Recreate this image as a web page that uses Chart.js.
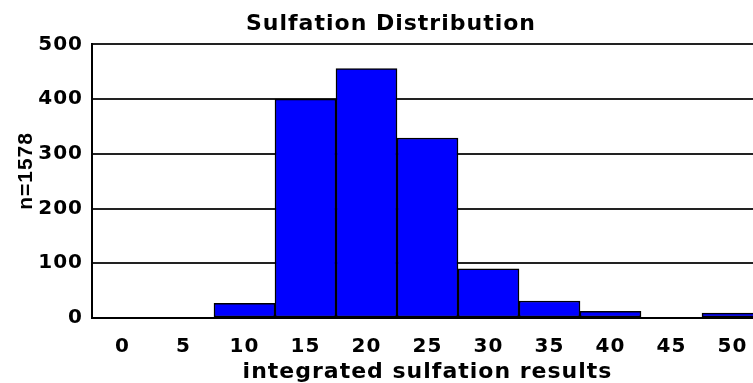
<!DOCTYPE html>
<html>
<head>
<meta charset="utf-8">
<title>Sulfation Distribution</title>
<script src="https://cdn.jsdelivr.net/npm/chart.js@4"></script>
<style>
    html, body { margin: 0; padding: 0; overflow: hidden; background: #fff; }
    #wrap { width: 782px; height: 383px; }
</style>
</head>
<body>
<div id="wrap"><canvas id="sulfationChart" width="782" height="383"></canvas></div>
<script>
// histogram bins (integrated sulfation results) and counts
const binLabels = ['0', '5', '10', '15', '20', '25', '30', '35', '40', '45', '50'];
const binCounts = [0, 0, 27, 400, 456, 329, 90, 31, 12, 0, 9];
const sampleSize = 1578;

const tickFont = { family: 'DejaVu Sans', size: 20, weight: 'bold' };
const titleFont = { family: 'DejaVu Sans', size: 22, weight: 'bold' };

// the original uses a wide bitmap-like font, so spread the letters a little
const letterSpacingPlugin = {
    id: 'letterSpacing',
    beforeUpdate: function(chart) { chart.ctx.letterSpacing = '1px'; },
    beforeDraw: function(chart) { chart.ctx.letterSpacing = '1px'; }
};

document.addEventListener('DOMContentLoaded', function() {
    const ctx = document.getElementById('sulfationChart');

    new Chart(ctx, {
        type: 'bar',
        data: {
            labels: binLabels,
            datasets: [{
                data: binCounts,
                backgroundColor: '#0000ff',
                borderColor: '#000000',
                borderWidth: 1.5,
                borderSkipped: false,
                categoryPercentage: 1,
                barPercentage: 1
            }]
        },
        plugins: [letterSpacingPlugin],
        options: {
            responsive: false,
            animation: false,
            // left padding keeps the main title centred like the original
            layout: { padding: { left: 19, right: 19, top: 0, bottom: -2 } },
            plugins: {
                legend: { display: false },
                tooltip: { enabled: false },
                title: {
                    display: true,
                    text: 'Sulfation Distribution',
                    color: '#000',
                    font: titleFont,
                    padding: { top: 11, bottom: 7 }
                }
            },
            scales: {
                x: {
                    grid: { display: false, drawTicks: false },
                    border: { color: '#000', width: 2 },
                    ticks: { color: '#000', font: tickFont, padding: 17, maxRotation: 0 },
                    title: {
                        display: true,
                        text: 'integrated sulfation results',
                        color: '#000',
                        font: titleFont,
                        padding: { top: 0, bottom: 0 }
                    },
                    afterFit: function(scale) { scale.height = 67; }
                },
                y: {
                    min: 0,
                    max: 500,
                    ticks: { stepSize: 100, color: '#000', font: tickFont, padding: 9 },
                    grid: { color: '#222', lineWidth: 2, drawTicks: false },
                    border: { color: '#000', width: 2 },
                    title: {
                        display: true,
                        // leading spaces nudge the label upward like the original
                        text: '   n=' + sampleSize,
                        color: '#000',
                        font: { family: "'Liberation Sans Narrow', 'Liberation Sans'", size: 21, weight: 'bold' },
                        padding: { top: -5, bottom: 0 }
                    },
                    afterFit: function(scale) { scale.width = 73; }
                }
            }
        }
    });
});
</script>
</body>
</html>
